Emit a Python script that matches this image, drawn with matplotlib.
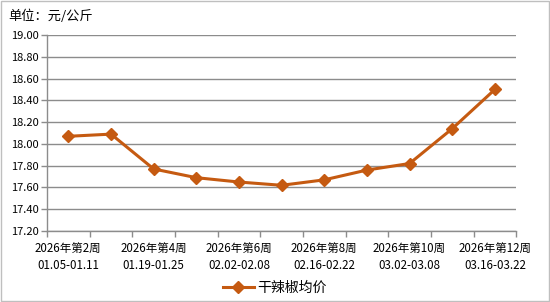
import matplotlib.pyplot as plt
from matplotlib.lines import Line2D
from matplotlib.patches import Rectangle

plt.rcParams['font.family'] = ['Noto Sans CJK SC', 'DejaVu Sans']

# 数据
weeks = ["2026年第2周\n01.05-01.11", "2026年第3周\n01.12-01.18", "2026年第4周\n01.19-01.25",
         "2026年第5周\n01.26-02.01", "2026年第6周\n02.02-02.08", "2026年第7周\n02.09-02.15",
         "2026年第8周\n02.16-02.22", "2026年第9周\n02.23-03.01", "2026年第10周\n03.02-03.08",
         "2026年第11周\n03.09-03.15", "2026年第12周\n03.16-03.22"]
prices = [18.07, 18.09, 17.77, 17.69, 17.65, 17.62, 17.67, 17.76, 17.82, 18.14, 18.50]
yticks = [17.20, 17.40, 17.60, 17.80, 18.00, 18.20, 18.40, 18.60, 18.80, 19.00]

color = '#C55A11'
grid = '#8C8C8C'

fig = plt.figure(figsize=(5.5, 3.02), dpi=100)
ax = fig.add_axes([0.0855, 0.235, 0.853, 0.649])

x = list(range(len(prices)))
ax.plot(x, prices, color=color, lw=2.2, marker='D', ms=6, zorder=3)

ax.set_xlim(-0.5, len(prices) - 0.5)
ax.set_ylim(yticks[0], yticks[-1])
ax.set_yticks(yticks)
ax.set_yticklabels([f"{v:.2f}" for v in yticks], fontsize=8)
ax.yaxis.grid(True, color=grid, lw=1)
ax.set_axisbelow(True)

ax.set_xticks(x[::2])
ax.set_xticklabels(weeks[::2], fontsize=8.3, linespacing=1.4)
ax.set_xticks([i - 0.5 for i in range(len(prices) + 1)], minor=True)
ax.tick_params(axis='x', which='major', length=0, pad=8)
ax.tick_params(axis='x', which='minor', length=4, color=grid, width=1)
ax.tick_params(axis='y', length=4, color=grid, width=1, pad=2)

for s in ['top', 'right']:
    ax.spines[s].set_visible(False)
for s in ['left', 'bottom']:
    ax.spines[s].set_color(grid)
    ax.spines[s].set_linewidth(1)

fig.text(0.015, 0.945, "单位：元/公斤", fontsize=9.5, va='center')

handle = Line2D([], [], color=color, lw=2.2, marker='D', ms=6)
fig.legend([handle], ["干辣椒均价"], loc='center', bbox_to_anchor=(0.5, 0.048),
           frameon=False, fontsize=10, handlelength=2.2, handletextpad=0.3)

fig.patches.append(Rectangle((0.001, 0.002), 0.997, 0.995, transform=fig.transFigure,
                             fill=False, edgecolor='#BFBFBF', lw=1))

fig.savefig('out.png', dpi=100)
